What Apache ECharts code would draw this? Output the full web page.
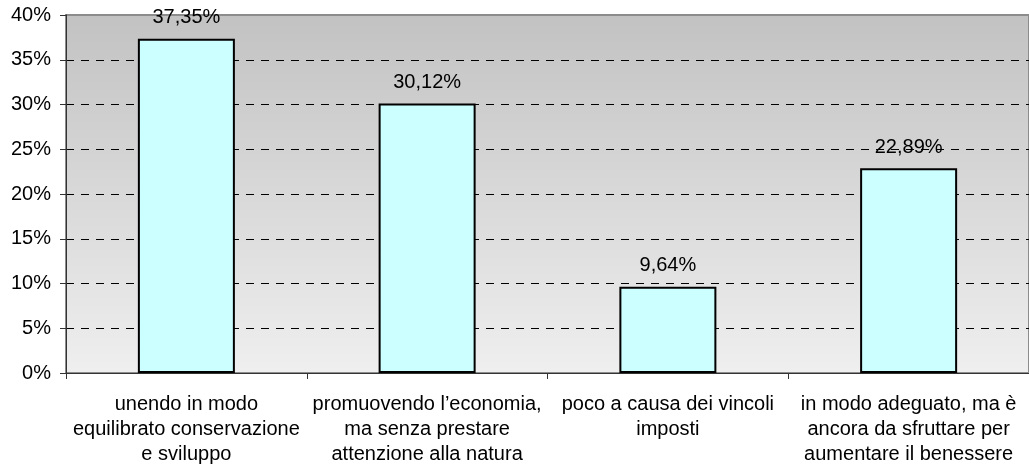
<!DOCTYPE html>
<html>
<head>
<meta charset="utf-8">
<script src="https://cdn.jsdelivr.net/npm/echarts@6/dist/echarts.min.js"></script>
<style>
  html, body { margin: 0; padding: 0; background: #fff; }
  #chart { width: 1029px; height: 473px; }
</style>
</head>
<body>
<div id="chart"></div>
<script>
// categorie (con a capo come nel grafico originale)
var categories = [
  "unendo in modo\nequilibrato conservazione\ne sviluppo",
  "promuovendo l\u2019economia,\nma senza prestare\nattenzione alla natura",
  "poco a causa dei vincoli\nimposti",
  "in modo adeguato, ma \u00e8\nancora da sfruttare per\naumentare il benessere"
];
var values = [37.35, 30.12, 9.64, 22.89];

var chart = echarts.init(document.getElementById("chart"));
var font = "'Liberation Sans', Arial, sans-serif";

var option = {
  animation: false,
  grid: {
    left: 66,
    top: 15,
    width: 966,
    height: 358,
    show: true,
    borderColor: "#8c8c8c",
    borderWidth: 2,
    backgroundColor: {
      type: "linear", x: 0, y: 0, x2: 0, y2: 1,
      colorStops: [
        { offset: 0, color: "#c2c2c2" },
        { offset: 1, color: "#efefef" }
      ]
    }
  },
  xAxis: {
    type: "category",
    data: categories,
    axisLine: { show: true, lineStyle: { color: "#333", width: 1 } },
    axisTick: { show: true, length: 6, lineStyle: { color: "#333" } },
    axisLabel: {
      color: "#000",
      fontSize: 20,
      fontFamily: font,
      lineHeight: 25,
      margin: 19,
      interval: 0
    },
    splitLine: { show: false }
  },
  yAxis: {
    type: "value",
    min: 0,
    max: 40,
    interval: 5,
    axisLine: { show: true, lineStyle: { color: "#333", width: 1 } },
    axisTick: { show: true, length: 6, lineStyle: { color: "#333" } },
    axisLabel: {
      color: "#000",
      fontSize: 20,
      fontFamily: font,
      margin: 15,
      formatter: "{value}%"
    },
    splitLine: {
      show: true,
      showMinLine: false,
      showMaxLine: false,
      lineStyle: { color: "#000", width: 1, type: [8, 7] }
    }
  },
  series: [
    {
      type: "bar",
      data: values,
      barWidth: 97,
      itemStyle: {
        color: "#ccffff",
        borderColor: "#000",
        borderWidth: 2
      },
      label: {
        show: true,
        position: "top",
        distance: 11,
        color: "#000",
        fontSize: 20,
        fontFamily: font,
        formatter: function (p) {
          return p.value.toFixed(2).replace(".", ",") + "%";
        }
      }
    }
  ]
};
chart.setOption(option);
</script>
</body>
</html>
